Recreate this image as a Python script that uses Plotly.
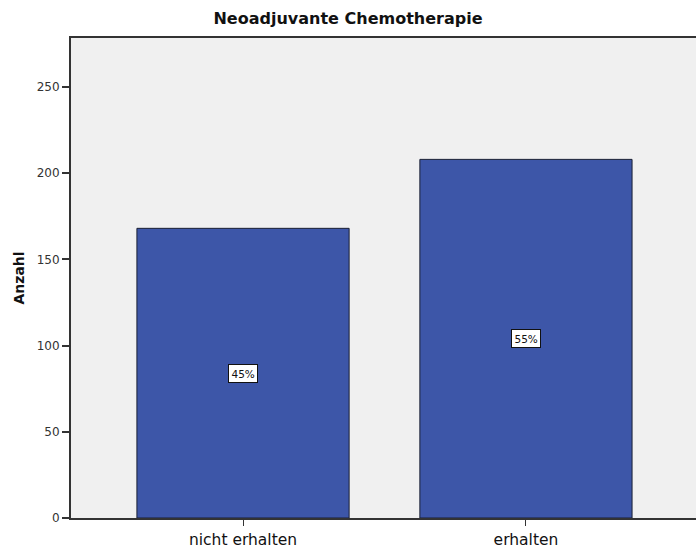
import plotly.graph_objects as go

categories = ["nicht erhalten", "erhalten"]
counts = [168, 208]
percent_labels = ["45%", "55%"]
y_ticks = [0, 50, 100, 150, 200, 250]

fig = go.Figure()
fig.add_trace(go.Bar(
    x=categories, y=counts, width=0.75,
    marker=dict(color="#3d56a8", line=dict(color="#1a1f33", width=1)),
    hoverinfo="skip",
))

for c, v, t in zip(categories, counts, percent_labels):
    fig.add_annotation(
        x=c, y=v / 2, text=t, showarrow=False,
        font=dict(family="DejaVu Sans", size=10.5, color="#111"),
        bgcolor="white", bordercolor="#111", borderwidth=1, borderpad=2.5,
    )

fig.update_layout(
    width=696, height=554,
    margin=dict(l=71, r=0, t=38, b=36),
    paper_bgcolor="white", plot_bgcolor="#f0f0f0",
    showlegend=False,
    title=dict(text="<b>Neoadjuvante Chemotherapie</b>", x=0.5, xanchor="center",
               y=1 - 18 / 554, yanchor="middle",
               font=dict(family="DejaVu Sans", size=16, color="#111")),
    font=dict(family="DejaVu Sans", color="#222"),
)
fig.update_xaxes(
    type="category", range=[-0.608, 1.601],
    showline=True, linecolor="#333", linewidth=2, mirror=True,
    ticks="outside", ticklen=6, tickwidth=1, tickcolor="#333",
    showgrid=False, zeroline=False,
    tickfont=dict(family="DejaVu Sans", size=15.5, color="#111"),
)
fig.update_yaxes(
    range=[0, 278.4], tickvals=y_ticks,
    showline=True, linecolor="#333", linewidth=2,
    ticks="outside", ticklen=7, tickwidth=2, tickcolor="#333",
    showgrid=False, zeroline=False,
    tickfont=dict(family="DejaVu Sans", size=12, color="#333"),
    title=dict(text="<b>Anzahl</b>", font=dict(family="DejaVu Sans", size=14, color="#111"), standoff=9),
)

fig.write_html("out.html", config={"displayModeBar": False},
               post_script="document.body.style.margin='0';document.body.style.overflow='hidden';")
